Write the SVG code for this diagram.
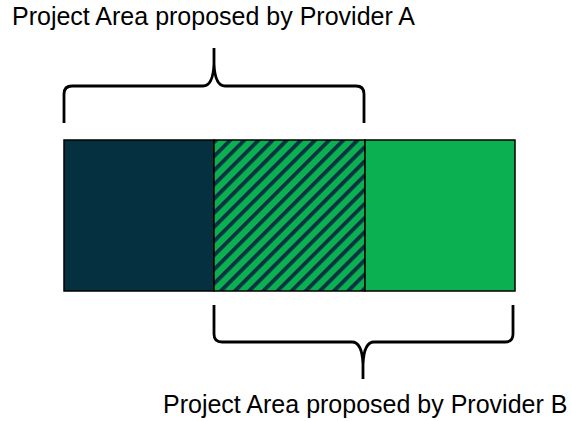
<svg xmlns="http://www.w3.org/2000/svg" width="571" height="421" viewBox="0 0 571 421">
<style>
.lbl{font-family:"Liberation Sans",Arial,Helvetica,sans-serif;font-size:25px;fill:#000}
.brace{fill:none;stroke:#000;stroke-width:2.8;stroke-linecap:butt;stroke-linejoin:round}
.box{stroke:#000;stroke-width:1.5}
</style>
<defs>
<pattern id="hatch" patternUnits="userSpaceOnUse" width="10" height="10" patternTransform="rotate(45)">
<rect width="10" height="10" fill="#0bb050"/>
<rect width="3.8" height="10" fill="#0b3242"/>
</pattern>
</defs>
<g id="areaA-only">
<rect class="box" x="64" y="140" width="150" height="151" fill="#05303f"/>
</g>
<g id="overlap">
<rect class="box" x="214" y="140" width="151" height="151" fill="url(#hatch)"/>
</g>
<g id="areaB-only">
<rect class="box" x="365" y="140" width="150" height="151" fill="#0bb050"/>
</g>
<g id="connectors">
<path class="brace" d="M64,123 V94 Q64,86 72,86 H203 Q213,86 214,64 V48 M214,64 Q215,86 225,86 H356 Q364,86 364,94 V123"/>
<path class="brace" d="M214,305 V334 Q214,342 222,342 H352 Q362,342 363,364 V379 M363,364 Q364,342 374,342 H505 Q513,342 513,334 V305"/>
</g>
<g id="labelA">
<text class="lbl" x="12" y="25">Project Area proposed by Provider A</text>
</g>
<g id="labelB">
<text class="lbl" x="163" y="413">Project Area proposed by Provider B</text>
</g>
</svg>
